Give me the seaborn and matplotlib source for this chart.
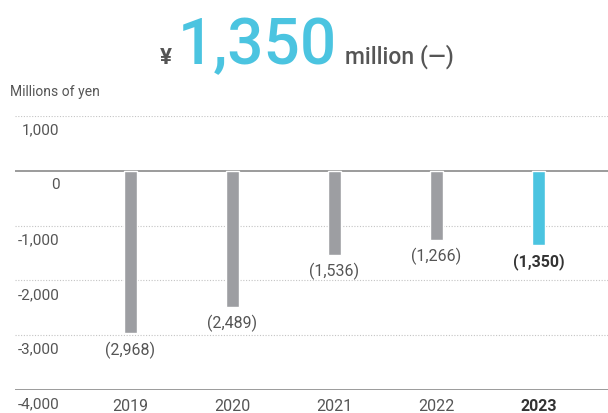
import seaborn as sns
import numpy as np
import pandas as pd
import matplotlib.pyplot as plt
from matplotlib.transforms import ScaledTranslation

years = ['2019', '2020', '2021', '2022', '2023']
values = [-2968, -2489, -1536, -1266, -1350]
labels = ['(2,968)', '(2,489)', '(1,536)', '(1,266)', '(1,350)']
yticks = [1000, 0, -1000, -2000, -3000, -4000]
ytick_labels = ['1,000', '0', '-1,000', '-2,000', '-3,000', '-4,000']

gray = '#9d9ea2'
cyan = '#4bc4e0'
txt = '#555555'

sns.set_style('white')
plt.rcParams['font.family'] = ['Roboto', 'DejaVu Sans']

df = pd.DataFrame({'Year': years, 'Value': values})

fig = plt.figure(figsize=(6.08, 4.14), dpi=100)
ax = fig.add_axes([15 / 608, 23 / 414, 593 / 608, 274 / 414])

pal = {y: (cyan if y == '2023' else gray) for y in years}
sns.barplot(data=df, x='Year', y='Value', hue='Year', palette=pal, order=years,
            width=0.13, saturation=1, legend=False, ax=ax)

ax.set_ylim(-4000, 1000)
ax.set_xlim(-1.13, 4.68)
for s in ax.spines.values():
    s.set_visible(False)

# grid lines
for t in yticks:
    if t == 0 or t == -4000:
        ax.axhline(t, color='#8a8a8a', lw=1.2, zorder=0)
    else:
        ax.axhline(t, color='#c4c4c4', lw=0.8, ls=(0, (1, 1.5)), zorder=0)

ax.set_yticks(yticks)
ax.set_yticklabels(ytick_labels)
ax.tick_params(axis='y', length=0, pad=-32, labelsize=11, labelcolor=txt)
for lab in ax.get_yticklabels():
    lab.set_horizontalalignment('right')
    lab.set_transform(lab.get_transform() + ScaledTranslation(0, -0.12, fig.dpi_scale_trans))

ax.tick_params(axis='x', length=0, pad=6, labelsize=11.5, labelcolor=txt)
for lab in ax.get_xticklabels():
    if lab.get_text() == '2023':
        lab.set_fontweight('bold')
        lab.set_color('#333333')
ax.set_xlabel('')
ax.set_ylabel('')

# value labels under bars
for i, (v, l) in enumerate(zip(values, labels)):
    bold = years[i] == '2023'
    ax.annotate(l, (i, v), xytext=(0, -5), textcoords='offset points',
                ha='center', va='top', fontsize=11.5,
                fontweight='bold' if bold else 'normal',
                color='#333333' if bold else txt)

fig.text(10 / 608, 1 - 92 / 414, 'Millions of yen', fontsize=10, color=txt, va='center')

# headline
base = 1 - 64 / 414
big = fig.text(178 / 608, base, '1,350', fontsize=46, color=cyan, va='baseline', ha='left',
               fontweight='medium')
fig.canvas.draw()
bb = big.get_window_extent()
fig.text((bb.x0 - 6) / 608, base, '¥', fontsize=16, color=txt, va='baseline', ha='right',
         fontweight='bold')
fig.text((bb.x1 + 8) / 608, base, 'million (—)', fontsize=16.5, color=txt,
         va='baseline', ha='left', fontweight='medium')

plt.savefig('out.png', dpi=100)
